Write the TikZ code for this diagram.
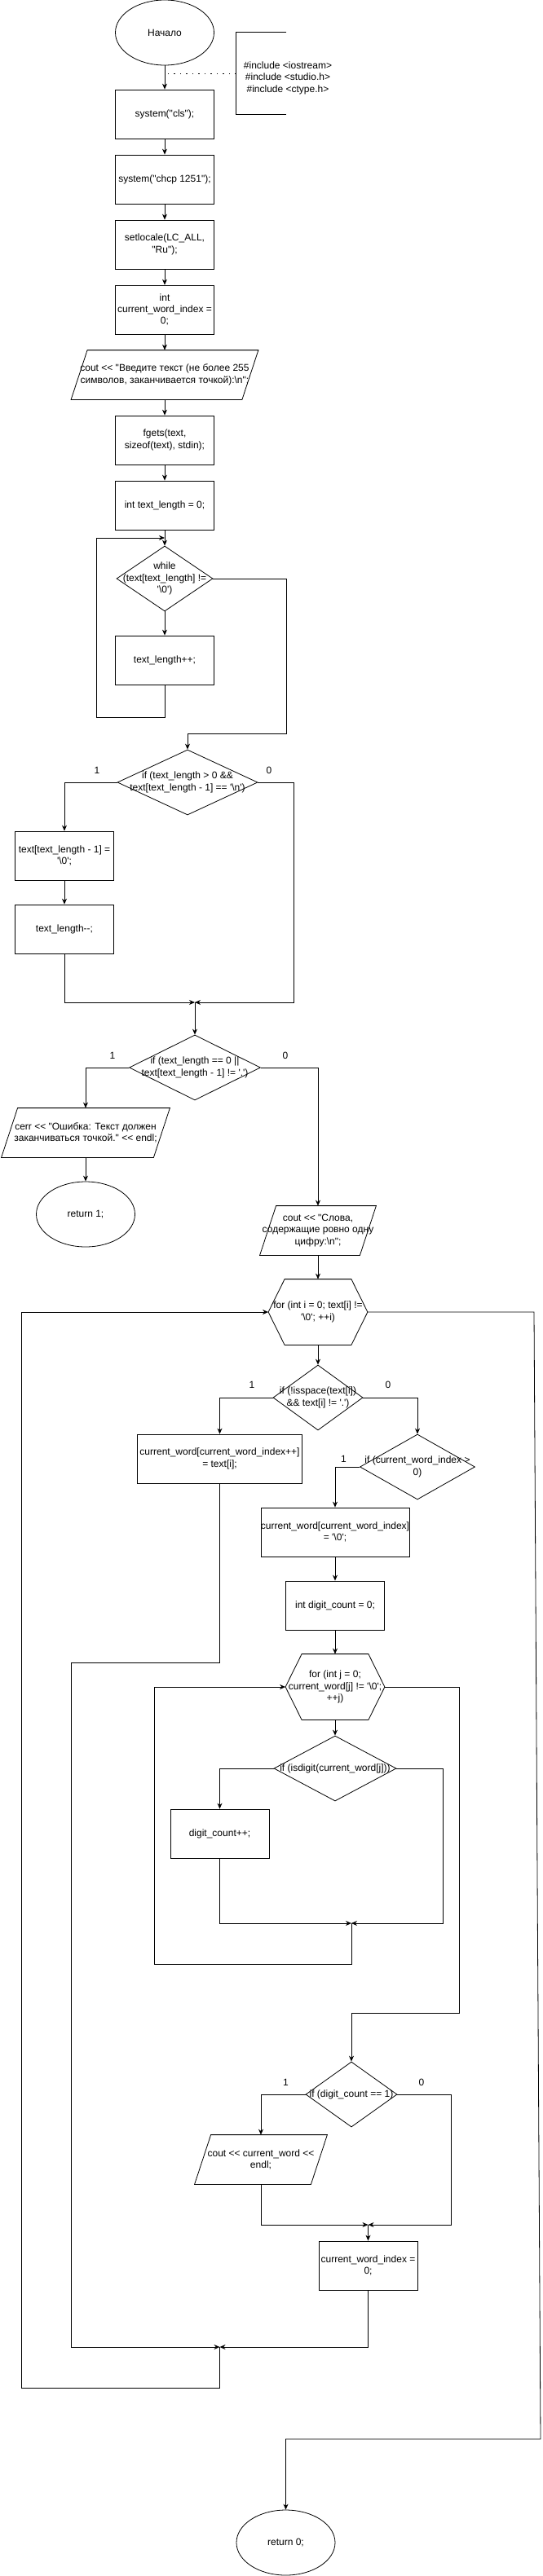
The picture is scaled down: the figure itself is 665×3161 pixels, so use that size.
\documentclass[tikz,border=0pt]{standalone}
\usepackage{fontspec}
\setmainfont{Liberation Sans}[Ligatures=TeXOff]
\usetikzlibrary{shapes.geometric,arrows.meta}

\begin{document}
\begin{tikzpicture}[x=1pt,y=-1pt,line width=0.8pt,
  every node/.style={font=\fontsize{12}{14.4}\selectfont,inner sep=0pt,align=center},
  box/.style={draw,rectangle,minimum width=121,minimum height=60},
  term/.style={draw,ellipse,minimum width=121,minimum height=80},
  cond/.style={draw,diamond,minimum height=80},
  iobox/.style={minimum height=60},
  loopbox/.style={minimum width=121,minimum height=80},
  arr/.style={-{Stealth[length=7pt,width=6pt]}}]
\useasboundingbox (0,0) rectangle (665,3161);
\node[term] (start) at (202,40) {Начало};
\node[minimum width=61,minimum height=100] (incl) at (320.5,90) {};
\node (incltxt) at (353,95.5) {\#include <iostream>\\\#include <studio.h>\\\#include <ctype.h>};
\node[box] (s1) at (202,140) {system("cls");};
\node[box] (s2) at (202,220) {system("chcp 1251");};
\node[box] (s3) at (202,300) {setlocale(LC\_ALL,\\"Ru");};
\node[box] (s4) at (202,380) {int\\current\_word\_index =\\0;};
\node[iobox,minimum width=229] (io1) at (202,460) {cout << "Введите текст (не более 255\\символов, заканчивается точкой):\textbackslash n";};
\node[box] (s5) at (202,540) {fgets(text,\\sizeof(text), stdin);};
\node[box] (s6) at (202,620) {int text\_length = 0;};
\coordinate (lp) at (118,660);
\node[cond,minimum width=118] (w1) at (202,710) {};
\node (w1t) at (w1) {while\\(text[text\_length] !=\\'\textbackslash 0')};
\node[box] (s7) at (202,810) {text\_length++;};
\node[cond,minimum width=172] (c1) at (230,960) {};
\node (c1t) at (c1) {if (text\_length > 0 \&\&\\text[text\_length - 1] == '\textbackslash n')};
\node (c1y) at (119,945) {1};
\node (c1n) at (330,945) {0};
\node[box] (s8) at (79,1050) {text[text\_length - 1] =\\'\textbackslash 0';};
\node[box] (s9) at (79,1140) {text\_length--;};
\coordinate (m1) at (239,1230);
\node[cond,minimum width=161] (c2) at (239,1310) {};
\node (c2t) at (c2) {if (text\_length == 0 ||\\text[text\_length - 1] != '.')};
\node (c2y) at (138,1295) {1};
\node (c2n) at (350,1295) {0};
\node[iobox,minimum width=206] (io2) at (105,1390) {cerr << "Ошибка: Текст должен\\заканчиваться точкой." << endl;};
\node[term] (r1) at (105,1490) {return 1;};
\node[iobox,minimum width=142] (io3) at (390,1510) {cout << "Слова,\\содержащие ровно одну\\цифру:\textbackslash n";};
\node[loopbox] (f1) at (390,1610) {for (int i = 0; text[i] !=\\'\textbackslash 0'; ++i)};
\node[cond,minimum width=110] (c3) at (390,1715) {};
\node (c3t) at (c3) {if (!isspace(text[i])\\\&\& text[i] != '.')};
\node (c3y) at (309,1699) {1};
\node (c3n) at (476,1699) {0};
\node[box,minimum width=202] (s10) at (269.5,1790) {current\_word[current\_word\_index++]\\= text[i];};
\node[cond,minimum width=141] (c4) at (512,1800) {};
\node (c4t) at (c4) {if (current\_word\_index >\\0)};
\node (c4y) at (421.5,1790) {1};
\node[box,minimum width=182] (s11) at (411,1880) {current\_word[current\_word\_index]\\= '\textbackslash 0';};
\node[box] (s12) at (411,1970) {int digit\_count = 0;};
\node[loopbox] (f2) at (411,2070) {for (int j = 0;\\current\_word[j] != '\textbackslash 0';\\++j)};
\node[cond,minimum width=150] (c5) at (411,2170) {};
\node (c5t) at (c5) {if (isdigit(current\_word[j]))};
\node[box] (s13) at (269.5,2250) {digit\_count++;};
\coordinate (m2) at (431,2360);
\node[cond,minimum width=112] (c6) at (431,2570) {};
\node (c6t) at (c6) {if (digit\_count == 1)};
\node (c6y) at (350.5,2555) {1};
\node (c6n) at (517,2555) {0};
\node[iobox,minimum width=162] (io4) at (320,2650) {cout << current\_word <<\\endl;};
\coordinate (m3) at (451.5,2730);
\node[box] (s14) at (451.5,2780) {current\_word\_index =\\0;};
\coordinate (m4) at (269.5,2880);
\node[term] (r0) at (350.5,3120) {return 0;};
\draw (incl.north east) -- (incl.north west) -- (incl.south west) -- (incl.south east);
\foreach \n in {io1,io2,io3,io4}
  \draw ([xshift=20]\n.north west) -- (\n.north east) -- ([xshift=-20]\n.south east) -- (\n.south west) -- cycle;
\foreach \n in {f1,f2}
  \draw (\n.west) -- ([xshift=20]\n.north west) -- ([xshift=-20]\n.north east) -- (\n.east) -- ([xshift=-20]\n.south east) -- ([xshift=20]\n.south west) -- cycle;
\draw[dash pattern=on 1.5pt off 6pt] (incl.west) -- (start.south |- incl.west);
\foreach \a/\b in {start/s1,s1/s2,s2/s3,s3/s4,s4/io1,io1/s5,s5/s6,s6/w1,w1/s7,s8/s9,m1/c2,io2/r1,io3/f1,f1/c3,s11/s12,s12/f2,f2/c5,m3/s14}
  \draw[arr] (\a) -- (\b);
\draw[arr] (s7.south) -- ++(0,40) -| (lp) -- (s6.south |- lp);
\draw[arr] (w1.east) -| (351,900) -| (c1.north);
\draw[arr] (c1.west) -| (s8.north);
\draw[arr] (c1.east) -| (360.5,1230) -- (m1);
\draw[arr] (s9.south) |- (m1);
\draw[arr] (c2.west) -| (io2.north);
\draw[arr] (c2.east) -| (io3.north);
\draw[arr] (c3.west) -| (s10.north);
\draw[arr] (c3.east) -| (c4.north);
\draw[arr] (c4.west) -| (s11.north);
\draw[arr] (c5.west) -| (s13.north);
\draw[arr] (s13.south) |- (m2);
\draw[arr] (c5.east) -| (543,2360) -- (m2);
\draw[arr] (m2) -- ++(0,50) -| (189,2070) -- (f2.west);
\draw[arr] (f2.east) -| (563,2470) -| (c6.north);
\draw[arr] (c6.west) -| (io4.north);
\draw[arr] (io4.south) |- (m3);
\draw[arr] (c6.east) -| (553,2730) -- (m3);
\draw[arr] (s14.south) |- (m4);
\draw[arr] (s10.south) -- ++(0,220) -| (87.5,2880) -- (m4);
\draw[arr] (m4) -- ++(0,50) -| (26.5,1610) -- (f1.west);
\draw[arr] (f1.east) -- (655,1610) -- (663,2993) -| (r0.north);
\end{tikzpicture}
\end{document}
